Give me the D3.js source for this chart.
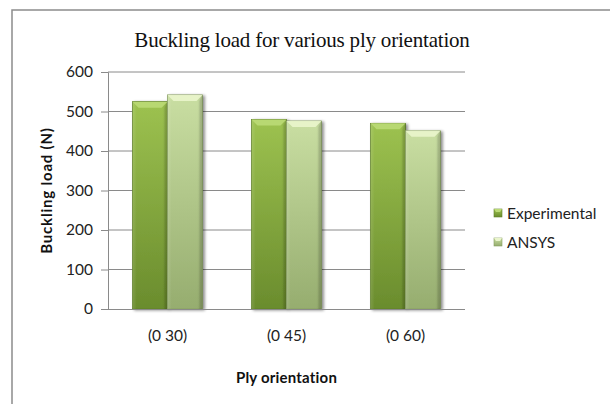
<!DOCTYPE html>
<html>
<head>
<meta charset="utf-8">
<script src="https://cdn.jsdelivr.net/npm/d3@7"></script>
<style>
  html, body { margin: 0; padding: 0; background: #fff; }
  svg { display: block; }
</style>
</head>
<body>
<svg id="chart" width="610" height="404"></svg>
<script>
// Buckling load per ply orientation, experiment vs. FE model
const categories = ["(0 30)", "(0 45)", "(0 60)"];
const seriesNames = ["Experimental", "ANSYS"];
const experimental = [525, 480, 470];
const ansys = [542, 476, 451];
const yTicks = [0, 100, 200, 300, 400, 500, 600];

const seriesValues = [experimental, ansys];
const palette = {
  Experimental: { top: "#9DC250", bottom: "#6A8C2D", bevel: "#BBDA75", edge: "#5F7F29" },
  ANSYS:        { top: "#C9DEA2", bottom: "#96AD6F", bevel: "#EAF5CC", edge: "#869D60" }
};

const svg = d3.select("#chart");
const W = 610, H = 404;
const plot = { left: 108, right: 465, top: 72, bottom: 309 };
const sans = "Lato, 'Open Sans', sans-serif";

// outer chart frame (runs past the right and bottom edges)
svg.append("rect")
  .attr("x", 12).attr("y", 10)
  .attr("width", W + 40).attr("height", H + 40)
  .attr("fill", "#fff")
  .attr("stroke", "#8c8c8c").attr("stroke-width", 1.5);

const defs = svg.append("defs");
seriesNames.forEach((s, i) => {
  const g = defs.append("linearGradient")
    .attr("id", "grad" + i).attr("x1", 0).attr("y1", 0).attr("x2", 0).attr("y2", 1);
  g.append("stop").attr("offset", "0%").attr("stop-color", palette[s].top);
  g.append("stop").attr("offset", "100%").attr("stop-color", palette[s].bottom);
  const h = defs.append("linearGradient")
    .attr("id", "side" + i).attr("x1", 0).attr("y1", 0).attr("x2", 1).attr("y2", 0);
  h.append("stop").attr("offset", "0%").attr("stop-color", "#fff").attr("stop-opacity", 0.12);
  h.append("stop").attr("offset", "12%").attr("stop-color", "#fff").attr("stop-opacity", 0);
  h.append("stop").attr("offset", "85%").attr("stop-color", "#000").attr("stop-opacity", 0);
  h.append("stop").attr("offset", "100%").attr("stop-color", "#000").attr("stop-opacity", 0.14);
});
const shadow = defs.append("filter").attr("id", "shadow")
  .attr("x", "-20%").attr("y", "-10%").attr("width", "150%").attr("height", "130%");
shadow.append("feGaussianBlur").attr("in", "SourceAlpha").attr("stdDeviation", 1.6).attr("result", "b");
shadow.append("feOffset").attr("in", "b").attr("dx", 2).attr("dy", 1).attr("result", "o");
shadow.append("feComponentTransfer").attr("in", "o").attr("result", "s")
  .append("feFuncA").attr("type", "linear").attr("slope", 0.45);
const merge = shadow.append("feMerge");
merge.append("feMergeNode").attr("in", "s");
merge.append("feMergeNode").attr("in", "SourceGraphic");

// scales
const y = d3.scaleLinear().domain([0, 600]).range([plot.bottom, plot.top]);
const x0 = d3.scaleBand().domain(categories).range([plot.left, plot.right]).paddingInner(0).paddingOuter(0);
const x1 = d3.scaleBand().domain(seriesNames).range([0, x0.bandwidth()]).paddingInner(0).paddingOuter(0.7);

// gridlines
svg.append("g")
  .selectAll("line").data(yTicks.filter(t => t > 0)).join("line")
  .attr("x1", plot.left).attr("x2", plot.right)
  .attr("y1", d => y(d)).attr("y2", d => y(d))
  .attr("stroke", "#8a8a8a").attr("stroke-width", 1);

// y axis
const yAxis = svg.append("g")
  .attr("transform", `translate(${plot.left},0)`)
  .call(d3.axisLeft(y).tickValues(yTicks).tickSize(7).tickPadding(8));
yAxis.select(".domain").attr("stroke", "#8a8a8a");
yAxis.selectAll(".tick line").attr("stroke", "#8a8a8a");
yAxis.selectAll("text")
  .attr("font-family", sans)
  .attr("font-size", 15.5).attr("fill", "#222");

// bars
const groups = svg.append("g").selectAll("g").data(categories).join("g")
  .attr("transform", d => `translate(${x0(d)},0)`);

groups.each(function (cat, ci) {
  const g = d3.select(this);
  seriesNames.forEach((s, si) => {
    const v = seriesValues[si][ci];
    const bx = x1(s), bw = x1.bandwidth();
    const by = y(v), bh = y(0) - y(v);
    const bar = g.append("g").attr("filter", "url(#shadow)");
    bar.append("rect")
      .attr("x", bx).attr("y", by).attr("width", bw).attr("height", bh)
      .attr("fill", `url(#grad${si})`)
      .attr("stroke", palette[s].edge).attr("stroke-width", 0.8);
    bar.append("rect")
      .attr("x", bx).attr("y", by).attr("width", bw).attr("height", bh)
      .attr("fill", `url(#side${si})`);
    // bevelled top face
    const d = 6;
    bar.append("path")
      .attr("d", `M${bx},${by} L${bx + bw},${by} L${bx + bw - d},${by + d} L${bx + d},${by + d} Z`)
      .attr("fill", palette[s].bevel).attr("opacity", 0.9);
    bar.append("path")
      .attr("d", `M${bx + bw},${by} L${bx + bw},${by + bh} L${bx + bw - 3},${by + bh} L${bx + bw - 3},${by + d} Z`)
      .attr("fill", "#000").attr("opacity", 0.08);
  });
});

// x axis
const xAxis = svg.append("g")
  .attr("transform", `translate(0,${plot.bottom})`)
  .call(d3.axisBottom(x0).tickSize(0).tickPadding(21));
xAxis.select(".domain").attr("stroke", "#8a8a8a").attr("d", `M${plot.left - 5},0.5H${plot.right}`);
xAxis.selectAll("text")
  .attr("font-family", sans)
  .attr("font-size", 15.5).attr("fill", "#222");

// titles
svg.append("text")
  .attr("x", 302).attr("y", 47)
  .attr("text-anchor", "middle")
  .attr("font-family", "'Liberation Serif', 'Times New Roman', serif")
  .attr("font-size", 21).attr("letter-spacing", -0.2).attr("fill", "#111")
  .text("Buckling load for various ply orientation");

svg.append("text")
  .attr("transform", `translate(52,${(plot.top + plot.bottom) / 2}) rotate(-90)`)
  .attr("text-anchor", "middle")
  .attr("font-family", sans)
  .attr("font-weight", "bold").attr("font-size", 15).attr("letter-spacing", 0.8).attr("fill", "#111")
  .text("Buckling load (N)");

svg.append("text")
  .attr("x", (plot.left + plot.right) / 2).attr("y", 383)
  .attr("text-anchor", "middle")
  .attr("font-family", sans)
  .attr("font-weight", "bold").attr("font-size", 15).attr("letter-spacing", 0.2).attr("fill", "#111")
  .text("Ply orientation");

// legend
const legend = svg.append("g").selectAll("g").data(seriesNames).join("g")
  .attr("transform", (d, i) => `translate(494,${213 + i * 29})`);
legend.append("rect")
  .attr("x", 0).attr("y", -4).attr("width", 8).attr("height", 8)
  .attr("fill", (d, i) => `url(#grad${i})`)
  .attr("stroke", d => palette[d].edge).attr("stroke-width", 0.6);
legend.append("path")
  .attr("d", "M0,-4 L8,-4 L6,-1 L2,-1 Z")
  .attr("fill", d => palette[d].bevel);
legend.append("text")
  .attr("x", 13).attr("y", 5.5)
  .attr("font-family", sans)
  .attr("font-size", 15.5).attr("fill", "#222")
  .text(d => d);
</script>
</body>
</html>
